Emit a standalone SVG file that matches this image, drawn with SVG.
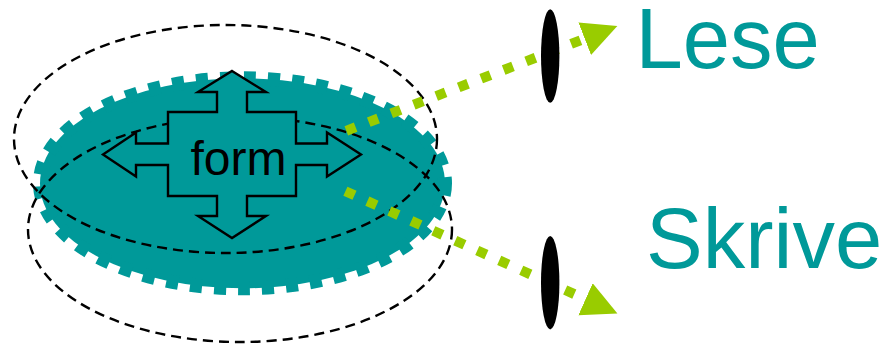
<svg xmlns="http://www.w3.org/2000/svg" width="886" height="347" viewBox="0 0 886 347">
  <style>
    .teal { fill: #009999; stroke: #009999; stroke-width: 14; stroke-dasharray: 12 12; }
    .dashed { fill: none; stroke: #000000; stroke-width: 2.4; stroke-dasharray: 10 6; }
    .cross { fill: #009999; stroke: #000000; stroke-width: 2.4; stroke-linejoin: miter; }
    .flow { fill: none; stroke: #99CC00; stroke-width: 10; stroke-dasharray: 10 14.1; }
    .stop { fill: #000000; }
    .label { font-family: "Liberation Sans", Arial, sans-serif; fill: #009999; font-size: 85px; }
    .inner { font-family: "Liberation Sans", Arial, sans-serif; fill: #000000; font-size: 48px; }
  </style>
  <defs>
    <marker id="head" markerUnits="userSpaceOnUse" markerWidth="36" markerHeight="36" refX="0" refY="17.5" orient="auto" viewBox="0 0 36 36">
      <path d="M0,0 L35,17.5 L0,35 Z" fill="#99CC00"/>
    </marker>
  </defs>
  <g id="form-node">
    <ellipse class="teal" cx="242.5" cy="183.3" rx="202.5" ry="105"/>
  </g>
  <g id="outline-upper">
    <ellipse class="dashed" cx="225.5" cy="139" rx="211.5" ry="114"/>
  </g>
  <g id="outline-lower">
    <ellipse class="dashed" cx="240" cy="229.5" rx="212" ry="112.5"/>
  </g>
  <g id="form-cross">
    <path class="cross" d="M232,71 L266,92 L247,92 L247,112 L296,112 L296,143.5 L327,143.5 L327,132.5 L361,154.5 L327,176.5 L327,165 L296,165 L296,196 L247,196 L247,216 L266,216 L232,238 L198,216 L217,216 L217,196 L168,196 L168,165 L136,165 L136,176.5 L103,154.5 L136,132.5 L136,143.5 L168,143.5 L168,112 L217,112 L217,92 L198,92 Z"/>
    <text class="inner" x="190.5" y="175">form</text>
  </g>
  <g id="connectors">
    <path class="flow" d="M346.3,130.8 L584.7,38.7" marker-end="url(#head)"/>
    <path class="flow" d="M345.4,191.2 L585.5,299.2" marker-end="url(#head)"/>
  </g>
  <g id="gate-lese">
    <ellipse class="stop" cx="550.2" cy="56" rx="9.2" ry="46.7"/>
  </g>
  <g id="gate-skrive">
    <ellipse class="stop" cx="550.2" cy="282.7" rx="9.2" ry="46.7"/>
  </g>
  <g id="lese">
    <text class="label" x="635.5" y="68.3">Lese</text>
  </g>
  <g id="skrive">
    <text class="label" x="646" y="268.3">Skrive</text>
  </g>
</svg>
